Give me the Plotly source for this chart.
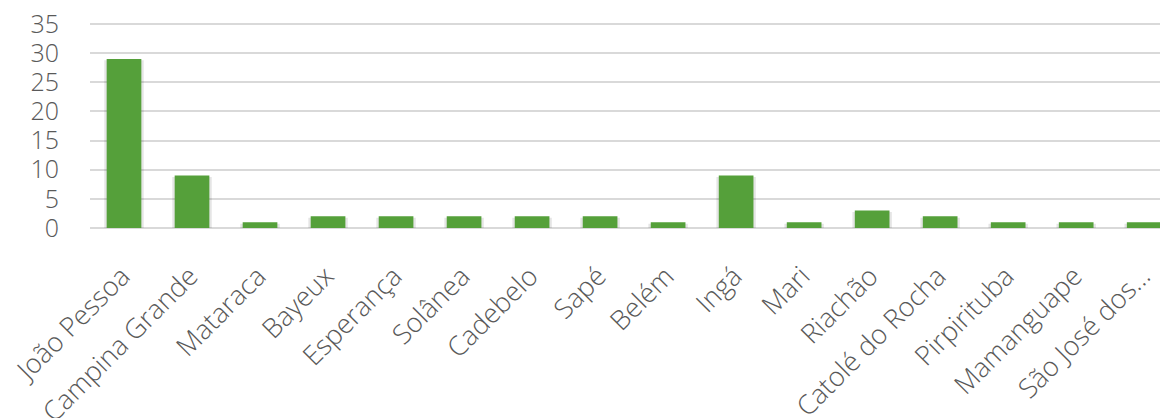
import plotly.graph_objects as go

cidades = ["João Pessoa", "Campina Grande", "Mataraca", "Bayeux", "Esperança",
           "Solânea", "Cadebelo", "Sapé", "Belém", "Ingá", "Mari", "Riachão",
           "Catolé do Rocha", "Pirpirituba", "Mamanguape", "São José dos..."]
valores = [29, 9, 1, 2, 2, 2, 2, 2, 1, 9, 1, 3, 2, 1, 1, 1]
y_ticks = [0, 5, 10, 15, 20, 25, 30, 35]

fig = go.Figure()

# soft shadow behind each bar
fig.add_trace(go.Bar(x=cidades, y=valores, width=0.58, base=-0.25,
                     marker=dict(color="rgba(0,0,0,0.10)", line_width=0),
                     hoverinfo="skip", showlegend=False))
fig.add_trace(go.Bar(x=cidades, y=valores, width=0.51,
                     marker=dict(color="#55A03A", line_width=0),
                     showlegend=False))

# page body has an 8px margin, so the figure is a bit smaller
fig.update_layout(
    width=1160, height=410,
    margin=dict(l=82, r=0, t=13, b=190),
    barmode="overlay",
    plot_bgcolor="white", paper_bgcolor="white",
    font=dict(family="Open Sans", color="#595959"),
)
fig.update_xaxes(range=[-0.5, 15.35], tickangle=-45,
                 tickfont=dict(size=27, weight=300), automargin=False,
                 showgrid=False, showline=False, ticks="",
                 ticklabelstandoff=26, ticklabelshift=-2,
                 ticklabeloverflow="allow")
# a bit of headroom so the 35 grid line is not dropped at the edge
fig.update_yaxes(range=[0, 35.5], tickvals=y_ticks,
                 tickfont=dict(size=25, weight=300), automargin=False,
                 gridcolor="#d9d9d9", gridwidth=2, zeroline=True,
                 zerolinecolor="#d9d9d9", zerolinewidth=2, ticks="",
                 ticklabelstandoff=30, ticklabeloverflow="allow")

fig.write_html("out.html")
